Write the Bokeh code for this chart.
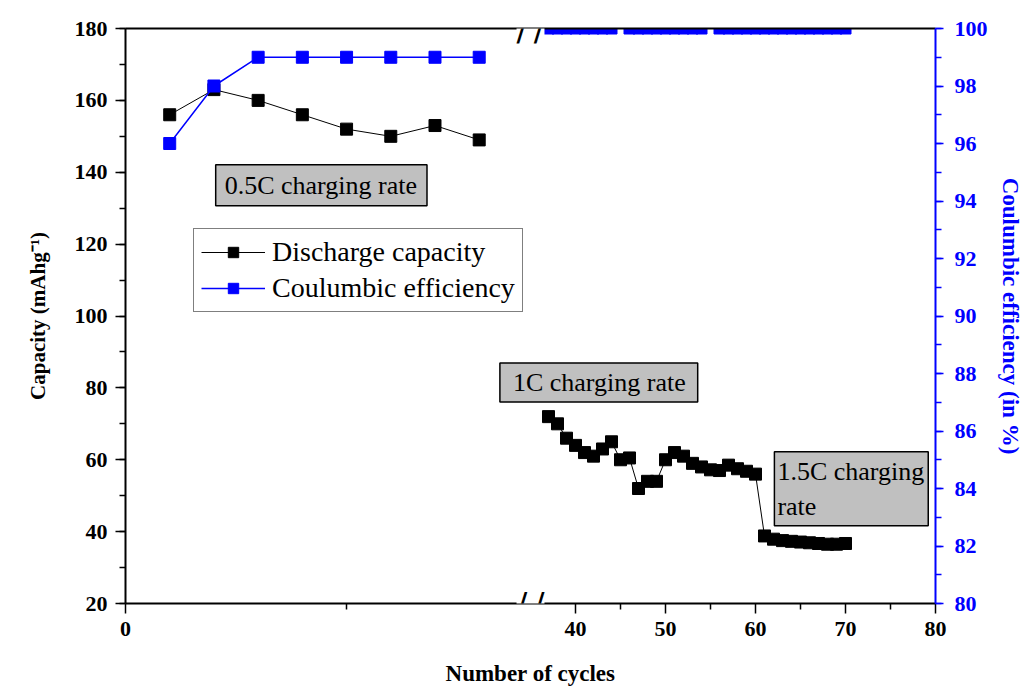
from bokeh.plotting import figure
from bokeh.models import (Range1d, LinearAxis, FixedTicker, SingleIntervalTicker,
                          Label, Legend, LegendItem)
from bokeh.embed import file_html
from bokeh.resources import INLINE

# ---- data -------------------------------------------------------------
# segment 1: 0.5C charging rate (left part of the broken axis)
cycles_05c = [5, 10, 15, 20, 25, 30, 35, 40]
capacity_05c = [156, 163, 160, 156, 152, 150, 153, 149]
efficiency_05c = [96, 98, 99, 99, 99, 99, 99, 99]

# segment 2: 1C and 1.5C charging rate (right part of the broken axis)
cycles_hi = [37, 38, 39, 40, 41, 42, 43, 44, 45, 46, 47, 48, 49, 50, 51, 52, 53,
             54, 55, 56, 57, 58, 59, 60, 61, 62, 63, 64, 65, 66, 67, 68, 69, 70]
capacity_hi = [72, 70, 66, 64, 62, 61, 63, 65, 60, 60.5, 52, 54, 54, 60, 62, 61, 59,
               58, 57.2, 57, 58.5, 57.5, 56.8, 56, 38.8, 37.9, 37.5, 37.3, 37.1, 36.9,
               36.7, 36.5, 36.5, 36.7]
cycles_eff_hi = [37, 38, 39, 40, 41, 42, 43, 44, 46, 47, 48, 49, 50, 51, 52, 53, 54,
                 56, 57, 58, 59, 60, 61, 62, 63, 64, 65, 66, 67, 68, 69, 70]
efficiency_hi = [100] * len(cycles_eff_hi)

x_ticks = [40, 50, 60, 70, 80]
x_minor = [45, 55, 65, 75]

BLACK = "#000000"
BLUE = "#0000ff"
SERIF = "Liberation Serif"

# ---- figure -----------------------------------------------------------
p = figure(frame_width=810, frame_height=575,
           x_range=Range1d(-10, 80), y_range=Range1d(20, 180),
           output_backend="svg", toolbar_location=None,
           min_border_left=125, min_border_top=28,
           min_border_right=78, min_border_bottom=84)
p.extra_x_ranges = {"seg1": Range1d(0, 91.6)}
p.extra_y_ranges = {"eff": Range1d(80, 100)}
p.grid.visible = False
p.outline_line_color = None
p.background_fill_color = "white"
p.border_fill_color = "white"

# position of the left segment's minor tick (cycle 25) on the shared axis
seg1_minor = -10 + 25 * 90 / 91.6

def style_axis(ax, color):
    ax.axis_line_color = color
    ax.axis_line_width = 2
    ax.major_tick_line_color = color
    ax.minor_tick_line_color = color
    ax.major_tick_line_width = 1.5
    ax.minor_tick_line_width = 1.5
    ax.major_tick_in = 0
    ax.minor_tick_in = 0
    ax.major_tick_out = 10
    ax.minor_tick_out = 6
    ax.major_label_text_font = SERIF
    ax.major_label_text_font_style = "bold"
    ax.major_label_text_font_size = "22px"
    ax.major_label_text_color = color
    ax.axis_label_text_font = SERIF
    ax.axis_label_text_font_style = "bold"
    ax.axis_label_text_font_size = "21px"
    ax.axis_label_text_color = color

xa = p.xaxis[0]
xa.ticker = FixedTicker(ticks=[-10] + x_ticks, minor_ticks=[seg1_minor] + x_minor)
xa.major_label_overrides = {-10: "0"}
style_axis(xa, BLACK)
xa.axis_label = "Number of cycles"
xa.axis_label_text_font_size = "23px"
xa.major_label_standoff = 8
xa.axis_label_standoff = 22

ya = p.yaxis[0]
ya.ticker = SingleIntervalTicker(interval=20, num_minor_ticks=2)
style_axis(ya, BLACK)
ya.axis_label = "Capacity (mAhg\u207b\u00b9)"
ya.major_label_standoff = 8
ya.axis_label_standoff = 22

ra = LinearAxis(y_range_name="eff",
                ticker=SingleIntervalTicker(interval=2, num_minor_ticks=2))
style_axis(ra, BLUE)
ra.axis_label = "Coulumbic efficiency (in %)"
ra.axis_label_text_font_size = "23px"
ra.major_tick_out = 8
ra.major_label_standoff = 11
ra.axis_label_standoff = 7
p.add_layout(ra, "right")

top = LinearAxis(ticker=FixedTicker(ticks=[]))
top.axis_line_color = BLACK
top.axis_line_width = 2
top.major_tick_out = 0
top.minor_tick_out = 0
top.major_label_standoff = 0
top.major_label_text_font_size = "0px"
p.add_layout(top, "above")

# ---- series -----------------------------------------------------------
l1 = p.line(cycles_05c, capacity_05c, x_range_name="seg1", line_color=BLACK, line_width=1)
s1 = p.scatter(cycles_05c, capacity_05c, x_range_name="seg1", marker="square", size=12,
               fill_color=BLACK, line_color=BLACK)
l2 = p.line(cycles_hi, capacity_hi, line_color=BLACK, line_width=1)
s2 = p.scatter(cycles_hi, capacity_hi, marker="square", size=12,
               fill_color=BLACK, line_color=BLACK)

l3 = p.line(cycles_05c, efficiency_05c, x_range_name="seg1", y_range_name="eff",
            line_color=BLUE, line_width=1.5)
s3 = p.scatter(cycles_05c, efficiency_05c, x_range_name="seg1", y_range_name="eff",
               marker="square", size=12, fill_color=BLUE, line_color=BLUE)
s4 = p.scatter(cycles_eff_hi, efficiency_hi, y_range_name="eff",
               marker="square", size=11, fill_color=BLUE, line_color=BLUE)

# ---- annotation boxes -------------------------------------------------
def box(x, y, text, pad, x_range_name="default"):
    lab = Label(x=x, y=y, text=text, x_range_name=x_range_name,
                text_font=SERIF, text_font_size="26px", text_color=BLACK,
                text_align="left", text_baseline="top",
                background_fill_color="#c0c0c0", background_fill_alpha=1,
                border_line_color=BLACK, border_line_width=1.5, padding=pad)
    p.add_layout(lab)

box(10.2, 142.1, "0.5C charging rate", dict(left=9, right=10, top=6, bottom=6), "seg1")
box(31.6, 86.9, "1C charging rate", dict(left=13, right=12, top=5, bottom=5))
box(62.1, 62.2, "1.5C charging\n rate", dict(left=3, right=4, top=5, bottom=5))

# ---- axis break marks ---------------------------------------------------
for yb in (180, 20):
    p.add_layout(Label(x=35, y=yb, text="/\u2009/", text_font="DejaVu Sans",
                       text_font_size="32px", text_align="center",
                       text_baseline="middle", text_color=BLACK,
                       background_fill_color="white", background_fill_alpha=1))

# ---- legend -----------------------------------------------------------
legend = Legend(items=[LegendItem(label="Discharge capacity", renderers=[l1, s1]),
                       LegendItem(label="Coulumbic efficiency", renderers=[l3, s3])],
                location=(68, 291), orientation="vertical",
                label_text_font=SERIF, label_text_font_size="28px",
                label_text_color=BLACK,
                glyph_width=64, glyph_height=26, label_standoff=7,
                spacing=4, padding=7, margin=0,
                border_line_color=BLACK, border_line_width=1,
                background_fill_color="white", background_fill_alpha=1)
p.add_layout(legend)

open("out.html", "w").write(file_html(p, INLINE))
